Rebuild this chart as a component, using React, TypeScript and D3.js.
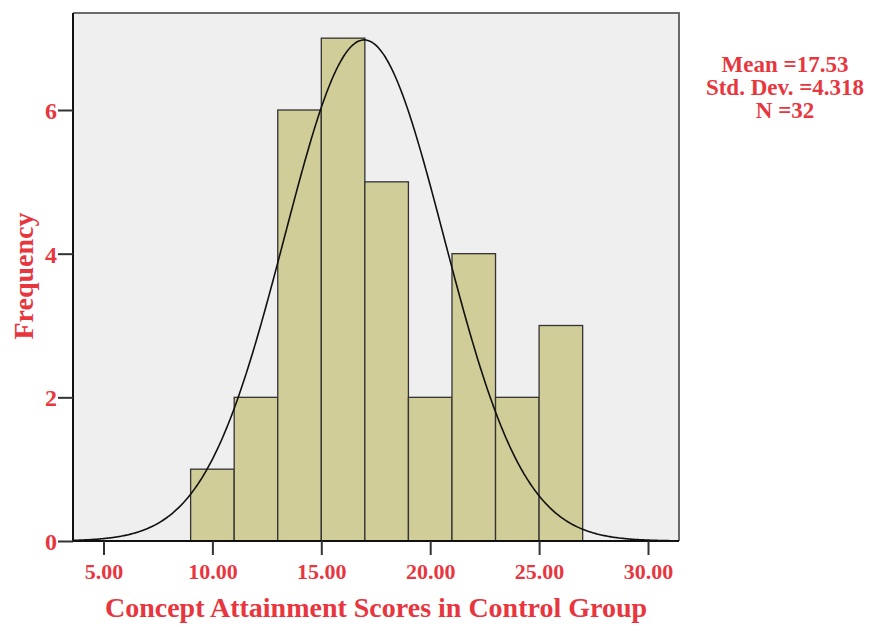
import React, { useEffect, useRef } from 'react';
import * as d3 from 'd3';

// histogram bins (lower edge, upper edge, count)
const binStarts = [9, 11, 13, 15, 17, 19, 21, 23, 25];
const binWidth = 2;
const counts = [1, 2, 6, 7, 5, 2, 4, 2, 3];
const xTicks = [5, 10, 15, 20, 25, 30];
const yTicks = [0, 2, 4, 6];
const statLines = ['Mean =17.53', 'Std. Dev. =4.318', 'N =32'];
// normal curve parameters as drawn in the picture
const curveMean = 16.97;
const curveSd = 3.66;
const curveN = 32;

const RED = '#e8363f';
const FONT = '"Liberation Serif", "DejaVu Serif", serif';

const App = () => {
  const svgRef = useRef<SVGSVGElement | null>(null);

  useEffect(() => {
    const width = 872;
    const height = 625;
    const plot = { left: 73, top: 13, right: 679, bottom: 541 };

    const svg = d3.select(svgRef.current)
      .attr('width', width)
      .attr('height', height);
    svg.selectAll('*').remove();

    const x = d3.scaleLinear().domain([5, 30]).range([103.5, 648]);
    const y = d3.scaleLinear().domain([0, 6]).range([541, 110]);

    // plot background
    svg.append('rect')
      .attr('x', plot.left)
      .attr('y', plot.top)
      .attr('width', plot.right - plot.left)
      .attr('height', plot.bottom - plot.top)
      .attr('fill', '#efefef');

    // top & right frame (grey)
    svg.append('path')
      .attr('d', `M${plot.left},${plot.top}H${plot.right}V${plot.bottom}`)
      .attr('fill', 'none')
      .attr('stroke', '#6b6b6b')
      .attr('stroke-width', 2);

    // bars
    svg.selectAll('.bar')
      .data(binStarts)
      .enter()
      .append('rect')
      .attr('class', 'bar')
      .attr('x', d => x(d))
      .attr('y', (d, i) => y(counts[i]))
      .attr('width', d => x(d + binWidth) - x(d))
      .attr('height', (d, i) => y(0) - y(counts[i]))
      .attr('fill', '#d1cd98')
      .attr('stroke', '#333')
      .attr('stroke-width', 1.3);

    // normal curve
    const xs = d3.range(x.invert(plot.left), x.invert(plot.right), 0.05);
    const pdf = (v: number) =>
      curveN * binWidth * Math.exp(-((v - curveMean) ** 2) / (2 * curveSd * curveSd)) /
      (curveSd * Math.sqrt(2 * Math.PI));
    svg.append('path')
      .datum(xs)
      .attr('d', d3.line<number>().x(d => x(d)).y(d => y(pdf(d))).curve(d3.curveBasis))
      .attr('fill', 'none')
      .attr('stroke', '#111')
      .attr('stroke-width', 1.6);

    // x axis
    const xAxis = svg.append('g')
      .attr('transform', `translate(0,${plot.bottom})`)
      .call(d3.axisBottom(x).tickValues(xTicks).tickSize(14).tickSizeOuter(0).tickFormat(d => (d as number).toFixed(2)));
    xAxis.select('.domain')
      .attr('d', `M${plot.left},0H${plot.right}`)
      .attr('stroke', '#111')
      .attr('stroke-width', 2);
    xAxis.selectAll('.tick line').attr('stroke', '#333').attr('stroke-width', 2);
    xAxis.selectAll('.tick text')
      .attr('fill', RED)
      .attr('font-family', FONT)
      .attr('font-weight', 'bold')
      .attr('font-size', 22)
      .attr('dy', 0)
      .attr('y', 38);

    // y axis
    const yAxis = svg.append('g')
      .attr('transform', `translate(${plot.left},0)`)
      .call(d3.axisLeft(y).tickValues(yTicks).tickSize(15).tickSizeOuter(0).tickFormat(d3.format('d')));
    yAxis.select('.domain')
      .attr('d', `M0,${plot.top}V${plot.bottom}`)
      .attr('stroke', '#111')
      .attr('stroke-width', 2);
    yAxis.selectAll('.tick line').attr('stroke', '#333').attr('stroke-width', 2);
    yAxis.selectAll('.tick text')
      .attr('fill', RED)
      .attr('font-family', FONT)
      .attr('font-weight', 'bold')
      .attr('font-size', 24)
      .attr('x', -16)
      .attr('dy', '0.35em');

    // axis titles
    svg.append('text')
      .attr('x', 376)
      .attr('y', 617)
      .attr('text-anchor', 'middle')
      .attr('fill', RED)
      .attr('font-family', FONT)
      .attr('font-weight', 'bold')
      .attr('font-size', 28)
      .text('Concept Attainment Scores in Control Group');

    svg.append('text')
      .attr('transform', 'rotate(-90)')
      .attr('x', -276)
      .attr('y', 33)
      .attr('text-anchor', 'middle')
      .attr('fill', RED)
      .attr('font-family', FONT)
      .attr('font-weight', 'bold')
      .attr('font-size', 28)
      .text('Frequency');

    // stats box
    svg.append('g')
      .selectAll('text')
      .data(statLines)
      .enter()
      .append('text')
      .attr('x', 785)
      .attr('y', (d, i) => 72 + i * 23)
      .attr('text-anchor', 'middle')
      .attr('fill', RED)
      .attr('font-family', FONT)
      .attr('font-weight', 'bold')
      .attr('font-size', 23)
      .text(d => d);
  }, []);

  return (
    <div style={{ position: 'absolute', left: 0, top: 0 }}>
      <svg ref={svgRef} width={872} height={625}></svg>
    </div>
  );
};

export default App;
